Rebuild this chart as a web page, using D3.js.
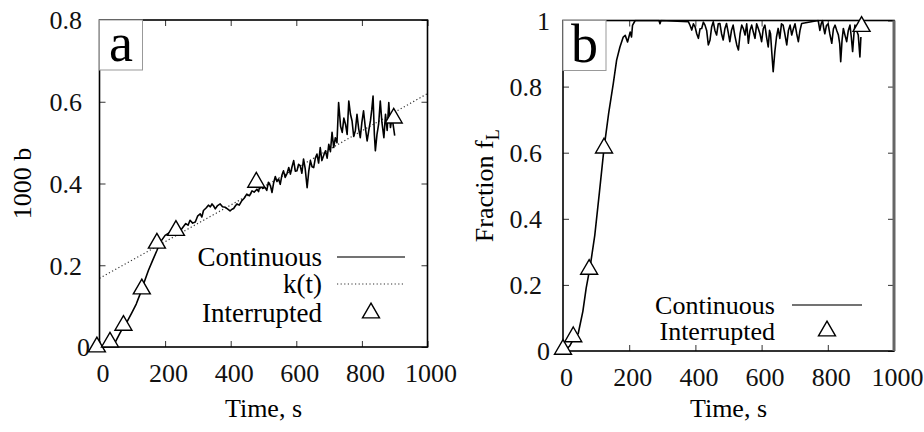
<!DOCTYPE html>
<html>
<head>
<meta charset="utf-8">
<script src="https://cdn.jsdelivr.net/npm/d3@7"></script>
<style>
  body { margin: 0; background: #fff; }
  svg, svg text { font-family: "Liberation Serif", "DejaVu Serif", serif; }
  svg { display: block; }
  .tick line { stroke: #333; stroke-width: 1; }
  .domain { display: none; }
</style>
</head>
<body>
<div id="chart"></div>
<script>
// ---- data ----
var xTicks = [0, 200, 400, 600, 800, 1000];
var yTicksA = [0, 0.2, 0.4, 0.6, 0.8];
var yTicksB = [0, 0.2, 0.4, 0.6, 0.8, 1];

// panel a: continuous run, 1000 b vs time
var timeA = [0,15,30,47,60,73,83,98,112,124,137,149,162,175,185,200,212,222,233,
  240,248,256,263,270,276,284,292,299,307,312,317,325,332,338,343,348,353,360,368,375,
  383,390,398,404,409,414,419,426,434,441,449,457,465,472,480,485,490,497,505,510,
  515,521,526,531,536,541,546,551,556,561,566,572,577,582,587,592,597,602,607,612,
  617,622,627,633,638,643,648,653,658,663,668,673,678,684,689,694,699,704,709,714,
  719,724,729,735,740,745,750,755,760,765,770,775,780,785,790,795,800,805,810,816,
  821,826,830,834,838,841,846,851,856,861,867,872,877,882,887,892,896,900];
var bA = [0,0.002,0.005,0.01,0.03,0.05,0.06,0.083,0.105,0.13,0.16,0.187,0.212,0.236,0.256,0.273,0.279,0.282,0.286,
  0.29,0.286,0.295,0.302,0.298,0.31,0.303,0.306,0.32,0.326,0.318,0.334,0.34,0.347,0.343,0.35,0.345,0.338,0.346,0.35,0.343,
  0.342,0.338,0.333,0.337,0.339,0.345,0.35,0.347,0.358,0.364,0.374,0.37,0.382,0.379,0.386,0.38,0.399,0.388,0.39,0.383,
  0.403,0.395,0.378,0.402,0.417,0.405,0.411,0.398,0.42,0.431,0.415,0.425,0.439,0.423,0.441,0.456,0.43,0.431,0.447,0.443,
  0.425,0.46,0.437,0.39,0.43,0.456,0.441,0.439,0.462,0.472,0.45,0.488,0.456,0.47,0.48,0.462,0.496,0.478,0.525,0.488,
  0.512,0.5,0.598,0.54,0.525,0.56,0.545,0.52,0.602,0.57,0.553,0.515,0.529,0.569,0.535,0.512,0.55,0.578,0.54,0.504,
  0.53,0.553,0.58,0.614,0.52,0.48,0.52,0.545,0.602,0.55,0.512,0.569,0.53,0.598,0.537,0.561,0.54,0.517];

// panel a: k(t) fit
var timeK = [0, 500, 1000];
var bK = [0.168, 0.392, 0.62];

// panel a: interrupted runs
var timeIntA = [-8, 32, 73, 129, 175, 233, 478, 897];
var bInt = [0, 0.012, 0.053, 0.142, 0.254, 0.285, 0.403, 0.56];

// panel b: continuous run, fraction f_L
var timeB = [0,10,20,31,46,60,70,82,96,110,124,138,152,162,172,182,188,195,203,207,210,218,290,293,296,
  379,384,389,394,399,404,409,414,419,424,429,434,439,444,449,454,459,464,469,474,479,484,489,494,499,
  504,509,514,519,525,530,535,540,545,550,555,560,565,570,575,580,585,590,595,600,605,610,615,620,624,
  627,631,635,640,645,650,655,660,665,670,676,681,686,691,696,701,706,711,716,721,771,776,780,784,788,
  791,796,801,806,812,817,822,827,832,836,839,843,847,852,857,862,867,871,875,879,882,887,892,897,900];
var fB = [0,0.005,0.015,0.035,0.053,0.12,0.19,0.255,0.35,0.48,0.614,0.72,0.81,0.88,0.92,0.95,0.955,0.935,0.965,0.95,0.985,1,1,0.99,1,
  0.996,0.985,0.971,0.99,0.981,0.96,0.946,0.975,0.976,0.995,0.986,0.97,0.926,0.94,0.98,0.996,0.97,0.956,0.99,0.991,0.96,0.941,0.975,0.991,0.965,
  0.936,0.97,0.986,0.955,0.926,0.911,0.96,0.986,0.975,0.956,0.99,0.931,0.97,0.986,0.965,0.946,0.99,0.976,0.96,0.936,0.975,0.986,0.95,0.92,0.97,
  0.96,0.9,0.845,0.906,0.95,0.976,0.946,0.99,0.986,0.96,0.926,0.97,0.986,0.956,0.975,0.99,0.96,0.936,0.97,0.991,1,0.97,0.99,1,0.975,
  0.96,0.985,0.99,0.96,0.931,0.975,0.986,0.97,0.956,0.93,0.875,0.94,0.976,0.955,0.936,0.97,0.986,0.95,0.906,0.96,0.986,0.97,0.956,0.89,0.95];

// panel b: interrupted runs
var timeIntB = [0, 31, 79, 124, 902];
var fInt = [0.005, 0.043, 0.247, 0.614, 0.982];

var svgWidth = 924, svgHeight = 432;
var svg = d3.select("#chart").append("svg")
  .attr("width", svgWidth)
  .attr("height", svgHeight);

var triangle = d3.symbol().type(d3.symbolTriangle).size(125);

function drawPanel(opt) {
  var x = d3.scaleLinear().domain([0, 1000]).range([opt.left, opt.right]);
  var y = d3.scaleLinear().domain(opt.yDomain).range([opt.bottom, opt.top]);
  var g = svg.append("g");

  // axes, gnuplot style: ticks inside and mirrored
  g.append("g")
    .attr("transform", `translate(0,${opt.bottom})`)
    .call(d3.axisBottom(x).tickValues(xTicks).tickSize(-6).tickPadding(17).tickFormat(d3.format("d")))
    .attr("font-family", null).attr("font-size", null)
    .call(a => a.selectAll("text").attr("dx", 3).style("font-size", "26px").attr("fill", "#111"));
  g.append("g")
    .attr("transform", `translate(0,${opt.top})`)
    .call(d3.axisTop(x).tickValues(xTicks).tickSize(-6).tickFormat(""));
  g.append("g")
    .attr("transform", `translate(${opt.left},0)`)
    .call(d3.axisLeft(y).tickValues(opt.yTicks).tickSize(-6).tickPadding(opt.labelPad).tickFormat(d3.format("~g")))
    .attr("font-family", null).attr("font-size", null)
    .call(a => a.selectAll("text")
      .attr("dx", d => (d === 0 || d === 1) ? 8 : 0)
      .attr("dy", "0.34em")
      .style("font-size", "26px").attr("fill", "#111"));
  g.append("g")
    .attr("transform", `translate(${opt.right},0)`)
    .call(d3.axisRight(y).tickValues(opt.yTicks).tickSize(-6).tickFormat(""));

  // clip for data lines
  var clipId = "clip-" + opt.name;
  svg.append("clipPath").attr("id", clipId)
    .append("rect")
    .attr("x", opt.left).attr("y", opt.top - 1)
    .attr("width", opt.right - opt.left).attr("height", opt.bottom - opt.top + 1);

  var line = d3.line().x(d => x(d[0])).y(d => y(d[1]));

  if (opt.fit) {
    g.append("path")
      .datum(d3.zip(opt.fit[0], opt.fit[1]))
      .attr("clip-path", `url(#${clipId})`)
      .attr("d", line)
      .attr("fill", "none")
      .attr("stroke", "#333")
      .attr("stroke-width", 1.2)
      .attr("stroke-dasharray", "1.2,2.4");
  }

  g.append("path")
    .datum(d3.zip(opt.t, opt.v))
    .attr("clip-path", `url(#${clipId})`)
    .attr("d", line)
    .attr("fill", "none")
    .attr("stroke", "#000")
    .attr("stroke-width", 1.6)
    .attr("stroke-linejoin", "round");

  // frame
  g.append("rect")
    .attr("x", opt.left).attr("y", opt.top)
    .attr("width", opt.right - opt.left).attr("height", opt.bottom - opt.top)
    .attr("fill", "none").attr("stroke", "#000").attr("stroke-width", 1.6);
  if (opt.greyRight) {
    g.append("line")
      .attr("x1", opt.right).attr("x2", opt.right)
      .attr("y1", opt.top).attr("y2", opt.bottom)
      .attr("stroke", "#666").attr("stroke-width", 3);
  }

  // interrupted markers
  g.selectAll(".pt")
    .data(d3.zip(opt.ti, opt.vi))
    .enter().append("path")
    .attr("class", "pt")
    .attr("transform", d => `translate(${x(d[0])},${y(d[1])})`)
    .attr("d", triangle)
    .attr("fill", "#fff")
    .attr("stroke", "#000")
    .attr("stroke-width", 1.4);

  // panel letter box
  g.append("rect")
    .attr("x", opt.left).attr("y", opt.top)
    .attr("width", 43).attr("height", 50)
    .attr("fill", "#fff").attr("stroke", "#999").attr("stroke-width", 1);
  g.append("text")
    .attr("x", opt.left + 21.5).attr("y", opt.top + 41)
    .attr("text-anchor", "middle")
    .style("font-size", "54px")
    .text(opt.name);

  // axis titles
  g.append("text")
    .attr("x", (opt.left + opt.right) / 2).attr("y", 417)
    .attr("text-anchor", "middle")
    .style("font-size", "26px")
    .text("Time, s");
  var yt = g.append("text")
    .attr("transform", `translate(${opt.yTitleX},${(opt.top + opt.bottom) / 2}) rotate(-90)`)
    .attr("text-anchor", "middle")
    .style("font-size", "26px");
  opt.yTitle(yt);

  // legend
  var lg = g.append("g");
  opt.legend.forEach(function(item) {
    lg.append("text")
      .attr("x", opt.legendTextX).attr("y", item.y + 9)
      .attr("text-anchor", "end")
      .style("font-size", opt.legendFont)
      .text(item.label);
    if (item.kind === "tri") {
      lg.append("path")
        .attr("transform", `translate(${(opt.legendLine[0] + opt.legendLine[1]) / 2},${item.y})`)
        .attr("d", triangle)
        .attr("fill", "#fff").attr("stroke", "#000").attr("stroke-width", 1.4);
    } else {
      lg.append("line")
        .attr("x1", opt.legendLine[0]).attr("x2", opt.legendLine[1])
        .attr("y1", item.y).attr("y2", item.y)
        .attr("stroke", item.kind === "dot" ? "#333" : "#444")
        .attr("stroke-width", item.kind === "dot" ? 1.2 : 1.6)
        .attr("stroke-dasharray", item.kind === "dot" ? "1.2,2.4" : null);
    }
  });
}

drawPanel({
  name: "a", left: 99.5, right: 427.5, top: 20, bottom: 347,
  yDomain: [0, 0.8], yTicks: yTicksA, labelPad: 17.5,
  t: timeA, v: bA, ti: timeIntA, vi: bInt, fit: [timeK, bK],
  yTitleX: 31,
  yTitle: function(t) { t.text("1000 b"); },
  legendTextX: 322, legendLine: [337, 405], legendFont: "27px",
  legend: [
    { label: "Continuous", y: 257, kind: "solid" },
    { label: "k(t)", y: 284, kind: "dot" },
    { label: "Interrupted", y: 313, kind: "tri" }
  ]
});

drawPanel({
  name: "b", left: 563, right: 894, top: 20.5, bottom: 351,
  yDomain: [0, 1], yTicks: yTicksB, labelPad: 21,
  t: timeB, v: fB, ti: timeIntB, vi: fInt, greyRight: true,
  yTitleX: 493,
  yTitle: function(t) {
    t.append("tspan").text("Fraction f");
    t.append("tspan").attr("dy", 6).style("font-size", "18px").text("L");
  },
  legendTextX: 775, legendLine: [792, 862], legendFont: "26px",
  legend: [
    { label: "Continuous", y: 305, kind: "solid" },
    { label: "Interrupted", y: 331, kind: "tri" }
  ]
});
</script>
</body>
</html>
